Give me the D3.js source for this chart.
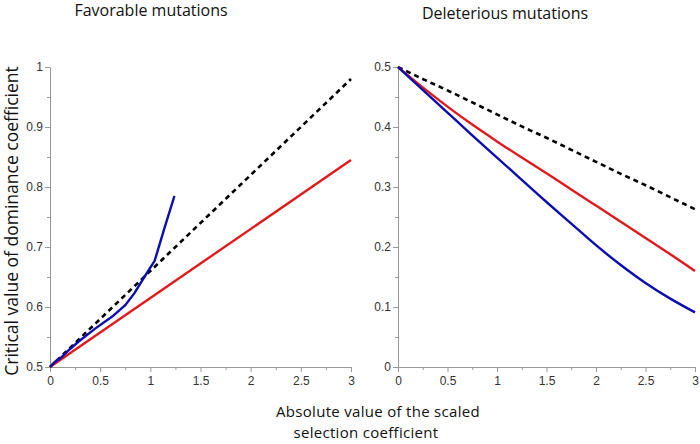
<!DOCTYPE html>
<html>
<head>
<meta charset="utf-8">
<script src="https://cdn.jsdelivr.net/npm/d3@7"></script>
<style>
  body { margin: 0; background: #fff; }
  svg { display: block; }
  .tick text { font-family: "Liberation Sans", Arial, sans-serif; font-size: 12px; fill: #333; }
  .domain, .tick line { stroke: #999; }
  .label { font-family: "Open Sans", sans-serif; fill: #111; }
</style>
</head>
<body>
<svg id="chart" width="700" height="444"></svg>
<script>
// favorable mutations (left panel)
let favX = [0, 3]
let favDashed = [0.5, 0.98]
let favRed = [0.5, 0.845]
let favBlueX = [0, 0.05, 0.1, 0.2, 0.283, 0.45, 0.62, 0.75, 0.845, 0.94, 1.043, 1.14, 1.24]
let favBlueY = [0.5, 0.509, 0.514, 0.53, 0.542, 0.564, 0.584, 0.603, 0.624, 0.65, 0.677, 0.731, 0.785]

// deleterious mutations (right panel)
let delX = [0, 0.25, 0.5, 0.75, 1, 1.25, 1.5, 1.75, 2, 2.25, 2.5, 2.75, 3]
let delDashed = [0.5, 0.48, 0.461, 0.441, 0.421, 0.401, 0.382, 0.362, 0.342, 0.322, 0.303, 0.283, 0.263]
let delRed = [0.5, 0.466, 0.434, 0.404, 0.376, 0.349, 0.323, 0.296, 0.269, 0.242, 0.215, 0.188, 0.16]
let delBlue = [0.5, 0.462, 0.424, 0.386, 0.349, 0.312, 0.275, 0.239, 0.203, 0.17, 0.14, 0.114, 0.091]

let xTicks = [0, 0.5, 1, 1.5, 2, 2.5, 3]
let xMinor = [0.25, 0.75, 1.25, 1.75, 2.25, 2.75]
let favTicks = [0.5, 0.6, 0.7, 0.8, 0.9, 1]
let favMinor = [0.55, 0.65, 0.75, 0.85, 0.95]
let delTicks = [0, 0.1, 0.2, 0.3, 0.4, 0.5]
let delMinor = [0.05, 0.15, 0.25, 0.35, 0.45]

let svg = d3.select("#chart")

function zip(xs, ys) {
    return xs.map((x, i) => [x, ys[i]])
}

function drawPanel(opts) {
    let x = d3.scaleLinear().domain([0, 3]).range([opts.left, opts.right])
    let y = d3.scaleLinear().domain(opts.yDomain).range([367, 67])
    let g = svg.append("g")

    // minor ticks first, then the labelled axes on top
    g.append("g").attr("transform", `translate(0,367)`)
        .call(d3.axisBottom(x).tickValues(xMinor).tickSize(3).tickFormat(""))
        .call(a => a.select(".domain").remove())
    g.append("g").attr("transform", `translate(${opts.left},0)`)
        .call(d3.axisLeft(y).tickValues(opts.minor).tickSize(3).tickFormat(""))
        .call(a => a.select(".domain").remove())

    g.append("g").attr("transform", `translate(0,367)`)
        .call(d3.axisBottom(x).tickValues(xTicks).tickSize(5).tickSizeOuter(0).tickPadding(4).tickFormat(d3.format("")))
    g.append("g").attr("transform", `translate(${opts.left},0)`)
        .call(d3.axisLeft(y).tickValues(opts.ticks).tickSize(5).tickSizeOuter(0).tickPadding(2).tickFormat(d3.format("")))

    let line = d3.line().x(d => x(d[0])).y(d => y(d[1])).curve(opts.curve)

    g.append("path").datum(opts.dashed)
        .attr("d", line).attr("fill", "none")
        .attr("stroke", "#000").attr("stroke-width", 2.6).attr("stroke-dasharray", "5,4")
    g.append("path").datum(opts.red)
        .attr("d", line).attr("fill", "none")
        .attr("stroke", "#e0191b").attr("stroke-width", 2.4)
    g.append("path").datum(opts.blue)
        .attr("d", line).attr("fill", "none")
        .attr("stroke", "#0c0cb0").attr("stroke-width", 2.4)

    svg.append("text").attr("class", "label")
        .attr("x", opts.titleX).attr("y", opts.titleY)
        .attr("text-anchor", "middle").attr("font-size", 16)
        .text(opts.title)
}

drawPanel({
    left: 50, right: 351,
    yDomain: [0.5, 1], ticks: favTicks, minor: favMinor,
    dashed: zip(favX, favDashed), red: zip(favX, favRed), blue: zip(favBlueX, favBlueY),
    curve: d3.curveLinear,
    title: "Favorable mutations", titleX: 151, titleY: 16
})

drawPanel({
    left: 398, right: 695,
    yDomain: [0, 0.5], ticks: delTicks, minor: delMinor,
    dashed: zip(delX, delDashed), red: zip(delX, delRed), blue: zip(delX, delBlue),
    curve: d3.curveNatural,
    title: "Deleterious mutations", titleX: 505, titleY: 19
})

svg.append("text").attr("class", "label")
    .attr("transform", "translate(18,221) rotate(-90)")
    .attr("text-anchor", "middle").attr("font-size", 17.5)
    .text("Critical value of dominance coefficient")

svg.append("text").attr("class", "label")
    .attr("x", 378).attr("y", 417).attr("text-anchor", "middle")
    .attr("font-size", 15).attr("letter-spacing", 0.3)
    .text("Absolute value of the scaled")
svg.append("text").attr("class", "label")
    .attr("x", 366).attr("y", 438).attr("text-anchor", "middle")
    .attr("font-size", 15).attr("letter-spacing", 0.3)
    .text("selection coefficient")
</script>
</body>
</html>
